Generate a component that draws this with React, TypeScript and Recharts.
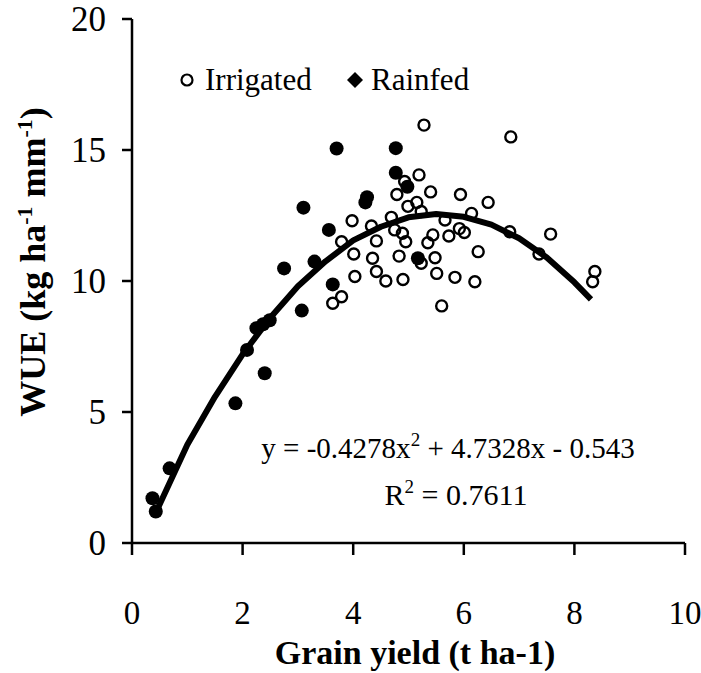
import { ScatterChart, Scatter, XAxis, YAxis } from 'recharts'

const xTicks = [0, 2, 4, 6, 8, 10]
const yTicks = [0, 5, 10, 15, 20]

// open circles
const irrigatedYield = [
  3.63, 3.79, 3.79, 3.98, 4.01, 4.03, 4.33, 4.35, 4.42, 4.42, 4.59, 4.69, 4.75, 4.79, 4.83, 4.89,
  4.9, 4.93, 4.95, 4.99, 5.15, 5.19, 5.23, 5.23, 5.28, 5.35, 5.4, 5.44, 5.48, 5.51, 5.6, 5.66,
  5.73, 5.84, 5.92, 5.94, 6.01, 6.14, 6.2, 6.26, 6.44, 6.83, 6.85, 7.36, 7.57, 8.33, 8.37,
]
const irrigatedWue = [
  9.15, 9.4, 11.5, 12.3, 11.03, 10.17, 12.1, 10.87, 10.36, 11.53, 10.0, 12.43, 11.95, 13.3, 10.95, 11.82,
  10.06, 13.8, 11.5, 12.85, 13.0, 14.05, 12.65, 10.68, 15.95, 11.46, 13.4, 11.76, 10.89, 10.29, 9.05, 12.33,
  11.72, 10.14, 12.0, 13.3, 11.85, 12.58, 9.97, 11.12, 13.0, 11.88, 15.5, 11.03, 11.79, 9.97, 10.36,
]

// filled dots
const rainfedYield = [
  0.37, 0.43, 0.68, 1.87, 2.08, 2.25, 2.37, 2.49, 2.4, 2.75, 3.07, 3.1, 3.3, 3.56, 3.63, 3.7,
  4.22, 4.25, 4.77, 4.77, 4.98, 5.17,
]
const rainfedWue = [
  1.71, 1.2, 2.85, 5.33, 7.37, 8.2, 8.35, 8.5, 6.48, 10.48, 8.87, 12.8, 10.74, 11.95, 9.87, 15.06,
  13.0, 13.2, 15.07, 14.13, 13.6, 10.87,
]

// fitted curve
const fitYield = [0.44, 1, 1.5, 2, 2.5, 3, 3.5, 4, 4.5, 5, 5.5, 6, 6.5, 7, 7.5, 8, 8.3]
const fitWue = [1.2, 3.75, 5.58, 7.2, 8.6, 9.8, 10.75, 11.55, 12.07, 12.43, 12.56, 12.45, 12.15, 11.63, 10.9, 9.95, 9.3]

const FONT = '"Liberation Serif", "Times New Roman", serif'

const toPoints = (xs: number[], ys: number[]) => xs.map((x, i) => ({ x, y: ys[i] }))

function XTick({ x, y, payload }: any) {
  return (
    <text x={x} y={y + 69} textAnchor='middle' fontFamily={FONT} fontSize={33} fill='#000'>
      {payload.value}
    </text>
  )
}

function YTick({ x, y, payload }: any) {
  return (
    <text x={x} y={y + 12} textAnchor='end' fontFamily={FONT} fontSize={35} fill='#000'>
      {payload.value}
    </text>
  )
}

const OpenDot = ({ cx, cy }: any) => (
  <circle cx={cx} cy={cy} r={5.5} fill='none' stroke='#000' strokeWidth={2.4} />
)
const FilledDot = ({ cx, cy }: any) => <circle cx={cx} cy={cy} r={7} fill='#000' />
const NoDot = () => <g />

export default function App() {
  const axisStyle = { stroke: '#000', strokeWidth: 2.5 }
  return (
    <div style={{ position: 'absolute', left: 0, top: 0, width: 701, height: 673, background: '#fff' }}>
      <ScatterChart width={701} height={673} margin={{ top: 19, right: 16, bottom: 0, left: 0 }}>
        <XAxis
          type='number'
          dataKey='x'
          domain={[0, 10]}
          ticks={xTicks}
          height={130}
          axisLine={axisStyle}
          tickLine={axisStyle}
          tickSize={12}
          tickMargin={0}
          tick={<XTick />}
        />
        <YAxis
          type='number'
          dataKey='y'
          domain={[0, 20]}
          ticks={yTicks}
          width={132}
          axisLine={axisStyle}
          tickLine={axisStyle}
          tickSize={10}
          tickMargin={16}
          tick={<YTick />}
        />
        <Scatter data={toPoints(irrigatedYield, irrigatedWue)} shape={<OpenDot />} isAnimationActive={false} />
        <Scatter data={toPoints(rainfedYield, rainfedWue)} shape={<FilledDot />} isAnimationActive={false} />
        <Scatter
          data={toPoints(fitYield, fitWue)}
          shape={<NoDot />}
          stroke='#000'
          strokeWidth={6}
          line={{ stroke: '#000', strokeWidth: 6, strokeLinejoin: 'round' }}
          lineType='joint'
          isAnimationActive={false}
        />
      </ScatterChart>
      <svg
        width={701}
        height={673}
        style={{ position: 'absolute', left: 0, top: 0, pointerEvents: 'none' }}
        fontFamily={FONT}
        fill='#000'
      >
        {/* legend */}
        <circle cx={187} cy={80} r={5.5} fill='none' stroke='#000' strokeWidth={2.2} />
        <text x={205} y={90} fontSize={31}>Irrigated</text>
        <polygon points='355,72 363,80 355,88 347,80' fill='#000' />
        <text x={371} y={90} fontSize={31}>Rainfed</text>

        {/* fit equation */}
        <text x={448} y={458} fontSize={29} textAnchor='middle'>
          y = -0.4278x<tspan dy={-12} fontSize={19}>2</tspan>
          <tspan dy={12}> + 4.7328x - 0.543</tspan>
        </text>
        <text x={456} y={505} fontSize={30} textAnchor='middle'>
          R<tspan dy={-12} fontSize={19}>2</tspan>
          <tspan dy={12}> = 0.7611</tspan>
        </text>

        {/* axis titles */}
        <text x={415} y={664} fontSize={34} fontWeight='bold' textAnchor='middle'>
          Grain yield (t ha-1)
        </text>
        <text transform='translate(45,262) rotate(-90)' fontSize={36} fontWeight='bold' textAnchor='middle'>
          WUE (kg ha<tspan dy={-13} fontSize={22}>-1</tspan>
          <tspan dy={13}> mm</tspan>
          <tspan dy={-13} fontSize={22}>-1</tspan>
          <tspan dy={13}>)</tspan>
        </text>
      </svg>
    </div>
  )
}
